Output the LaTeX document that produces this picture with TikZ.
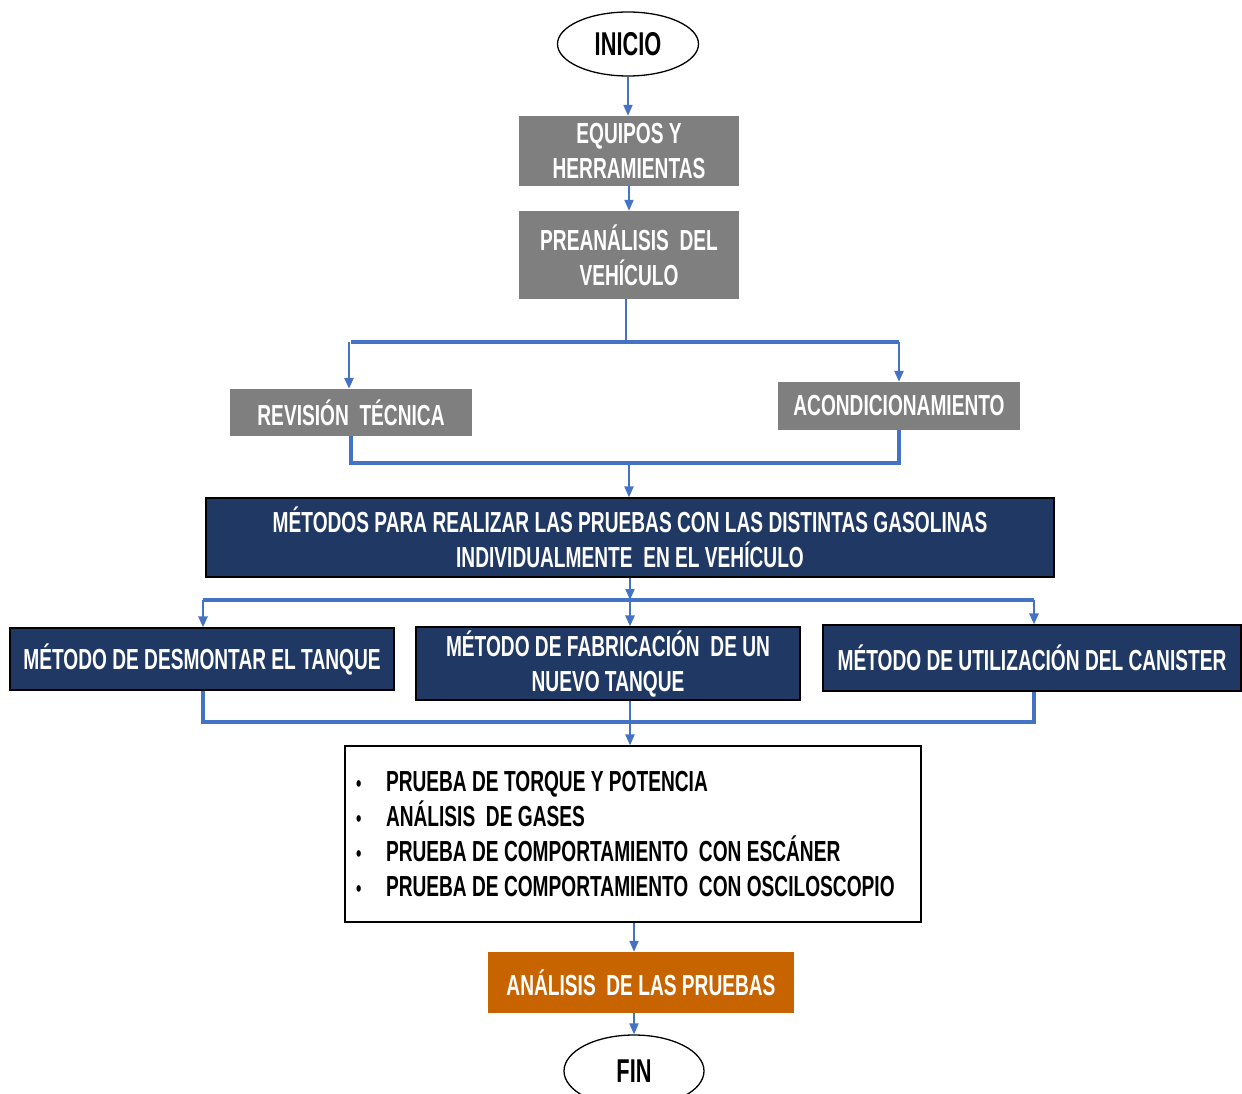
\documentclass[tikz,border=0pt]{standalone}
\usepackage{fontspec}
\usetikzlibrary{arrows.meta,shapes.geometric}
\newfontfamily\cf[FakeStretch=0.66]{Liberation Sans Bold}
\definecolor{bl}{HTML}{4472C4}
\definecolor{gr}{HTML}{7F7F7F}
\definecolor{nv}{HTML}{203864}
\definecolor{og}{HTML}{C86400}
\newcommand{\blt}{\makebox[32pt][l]{\hspace{2pt}\fontsize{23}{35}\selectfont•}}
\begin{document}
\begin{tikzpicture}[x=1pt,y=-1pt,
  txt/.style={font=\cf\fontsize{29}{35}\selectfont, align=center, inner sep=0pt},
  graybox/.style={txt, fill=gr, text=white},
  navybox/.style={txt, fill=nv, draw=black, line width=1.2pt, text=white},
  oval/.style={ellipse, draw=black, line width=1.3pt, fill=white, inner sep=0pt},
  arr/.style={draw=bl, line width=2pt, -{Triangle[width=9pt,length=11pt]}},
  thk/.style={draw=bl, line width=3.2pt},
  med/.style={draw=bl, line width=2.6pt},
]
\useasboundingbox (0,0) rectangle (1242,1094);
\clip (0,0) rectangle (1242,1094);
\fill[white] (0,0) rectangle (1242,1094);

\node[oval, minimum width=141, minimum height=64, font=\cf\fontsize{33}{38}\selectfont] (ini) at (628,44) {INICIO};
\node[graybox, minimum width=220, minimum height=70] (eq) at (629,151) {EQUIPOS Y\\HERRAMIENTAS};
\node[graybox, minimum width=220, minimum height=88] (pre) at (629,255) {PREANÁLISIS \ DEL\\VEHÍCULO};
\node[graybox, minimum width=242, minimum height=47] (rev) at (351,412.5) {REVISIÓN \ TÉCNICA};
\node[graybox, minimum width=242, minimum height=48] (aco) at (899,406) {ACONDICIONAMIENTO};
\node[navybox, minimum width=848, minimum height=79] (met) at (630,537.5) {MÉTODOS PARA REALIZAR LAS PRUEBAS CON LAS DISTINTAS GASOLINAS\\INDIVIDUALMENTE \ EN EL VEHÍCULO};
\node[navybox, minimum width=384, minimum height=62] (m1) at (202,659) {MÉTODO DE DESMONTAR EL TANQUE};
\node[navybox, minimum width=384, minimum height=73] (m2) at (608,663.5) {MÉTODO DE FABRICACIÓN \ DE UN\\NUEVO TANQUE};
\node[navybox, minimum width=418, minimum height=66] (m3) at (1032,658) {MÉTODO DE UTILIZACIÓN DEL CANISTER};
\node[txt, draw=black, line width=1.2pt, fill=white, minimum width=576, minimum height=176, text width=558, align=flush left] (lst) at (633,834)
{\blt PRUEBA DE TORQUE Y POTENCIA\\
 \blt ANÁLISIS \ DE GASES\\
 \blt PRUEBA DE COMPORTAMIENTO \ CON ESCÁNER\\
 \blt PRUEBA DE COMPORTAMIENTO \ CON OSCILOSCOPIO};
\node[txt, fill=og, text=white, minimum width=306, minimum height=61] (an) at (641,982.5) {ANÁLISIS \ DE LAS PRUEBAS};
\node[oval, minimum width=140, minimum height=72, font=\cf\fontsize{33}{38}\selectfont] (fin) at (634,1071) {FIN};

% connectors
\draw[arr] (ini.south) -- (ini.south |- eq.north);
\draw[arr] (eq.south) -- (pre.north);

\coordinate (b1) at (626,342);
\draw[med] (pre.south -| b1) -- (b1);
\draw[thk] (rev.north |- b1) -- (aco.north |- b1);
\draw[arr, line width=2.6pt] ([xshift=-2]rev.north |- b1) -- ([xshift=-2]rev.north);
\draw[arr, line width=2.6pt] (aco.north |- b1) -- (aco.north);

\coordinate (b2) at (629,463);
\draw[thk] (rev.south) |- (b2) -| (aco.south);
\draw[arr] (b2) -- (b2 |- met.north);

\coordinate (b3) at (630,600);
\draw[arr] (met.south -| b3) -- (b3);
\draw[thk] ([xshift=1]m1.north |- b3) -- ([xshift=2]m3.north |- b3);
\draw[arr, line width=2.6pt] ([xshift=1]m1.north |- b3) -- ([xshift=1]m1.north);
\draw[arr, line width=2.6pt] (b3) -- (b3 |- m2.north);
\draw[arr, line width=2.6pt] ([xshift=2]m3.north |- b3) -- ([xshift=2]m3.north);

\coordinate (b4) at (630,722);
\draw[thk] ([xshift=1]m1.south) |- (b4);
\draw[thk] ([xshift=2]m3.south) |- (b4);
\draw[med] (b4 |- m2.south) -- (b4);
\draw[arr] (b4) -- (b4 |- lst.north);

\draw[arr] ([xshift=1]lst.south) -- ([xshift=1]lst.south |- an.north);
\draw[arr] (an.south -| fin) -- (fin.north);
\end{tikzpicture}
\end{document}
